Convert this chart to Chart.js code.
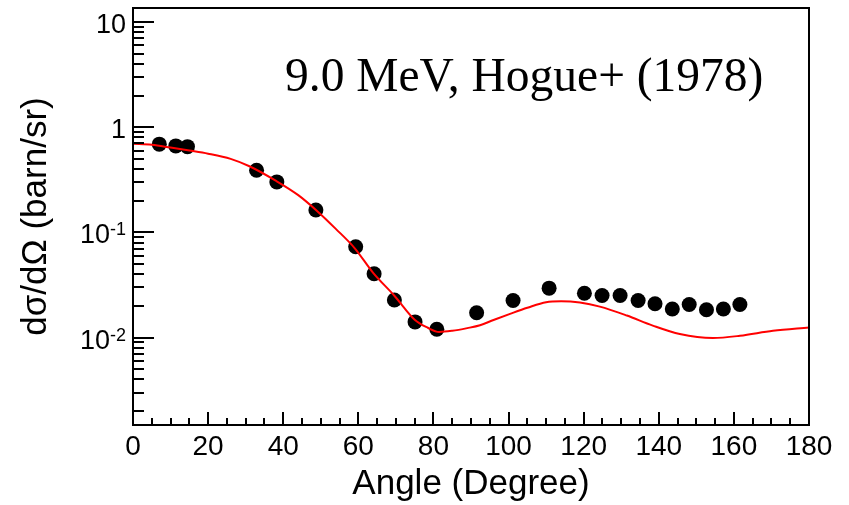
<!DOCTYPE html>
<html>
<head>
<meta charset="utf-8">
<script src="https://cdn.jsdelivr.net/npm/chart.js@4.4.0/dist/chart.umd.min.js"></script>
<style>
    body { margin: 0; background: #fff; }
    #wrap { width: 849px; height: 505px; }
</style>
</head>
<body>
<div id="wrap"><canvas id="xsChart" width="849" height="505"></canvas></div>
<script>
// measured points (Hogue+ 1978, 9.0 MeV)
const angles = [7.0, 11.4, 14.5, 32.9, 38.3, 48.7, 59.3, 64.2, 69.6, 75.1, 80.9, 91.5,
    101.2, 110.8, 120.2, 124.9, 129.7, 134.5, 139.0, 143.6, 148.1, 152.7, 157.2, 161.6];
const crossSections = [0.69, 0.664, 0.653, 0.39, 0.302, 0.163, 0.073, 0.0405, 0.0228, 0.0141, 0.0120, 0.0172,
    0.0225, 0.0295, 0.0264, 0.0251, 0.0251, 0.0225, 0.0210, 0.0187, 0.0206, 0.0184, 0.0187, 0.0206];

// calculated curve
const fitAngles = [0, 5, 10, 15, 20, 26, 31, 38, 44, 49, 54, 59, 64, 69.6, 75, 78.5, 81.5, 85, 89, 92.4, 96,
    100.4, 105, 110, 114, 119, 124.3, 131.5, 138.4, 145.6, 154.4, 161.6, 170.4, 180];
const fitValues = [0.695, 0.68, 0.64, 0.60, 0.56, 0.50, 0.425, 0.31, 0.226, 0.16, 0.108, 0.071, 0.041, 0.025, 0.0148,
    0.0124, 0.0113, 0.0116, 0.0123, 0.0131, 0.0147, 0.0168, 0.0192, 0.0217, 0.0221, 0.0215, 0.0197, 0.0162,
    0.0130, 0.0108, 0.0099, 0.0104, 0.0116, 0.0125];

// axis labels
const xTicks = [0, 20, 40, 60, 80, 100, 120, 140, 160, 180];
const yDecades = [10, 1, 0.1, 0.01];
const yDecadeLabels = [['10', ''], ['1', ''], ['10', '-1'], ['10', '-2']];
const titleText = '9.0 MeV, Hogue+ (1978)';

const sans = '"Liberation Sans", Arial, Helvetica, sans-serif';

// frame, inward ticks, y labels and caption
const frameAndTicks = {
    id: 'frameAndTicks',
    afterDatasetsDraw(chart) {
        const ctx = chart.ctx;
        const area = chart.chartArea;
        const xs = chart.scales.x;
        const ys = chart.scales.y;
        ctx.save();
        ctx.strokeStyle = '#000';
        ctx.lineWidth = 2;

        // x ticks every 5 deg
        ctx.beginPath();
        for (let a = 0; a <= 180; a += 5) {
            const px = Math.round(xs.getPixelForValue(a));
            const len = a % 20 === 0 ? 13 : 7;
            ctx.moveTo(px, area.bottom);
            ctx.lineTo(px, area.bottom - len);
        }
        // y ticks, decades and 2..9
        for (let e = -3; e <= 1; e++) {
            for (let m = 1; m <= 9; m++) {
                const v = m * Math.pow(10, e);
                if (v < ys.min || v > ys.max) continue;
                const py = Math.round(ys.getPixelForValue(v));
                const len = m === 1 ? 21 : 11;
                ctx.moveTo(area.left, py);
                ctx.lineTo(area.left + len, py);
            }
        }
        ctx.stroke();

        // frame
        ctx.strokeRect(area.left, area.top, area.right - area.left, area.bottom - area.top);

        // y labels with exponents
        ctx.fillStyle = '#000';
        ctx.textBaseline = 'alphabetic';
        ctx.textAlign = 'right';
        yDecades.forEach((v, i) => {
            const py = ys.getPixelForValue(v);
            const base = yDecadeLabels[i][0];
            const sup = yDecadeLabels[i][1];
            let right = area.left - 7;
            if (sup) {
                ctx.font = '18px ' + sans;
                ctx.fillText(sup, right, py + 3);
                right -= ctx.measureText(sup).width;
            }
            ctx.font = '27px ' + sans;
            ctx.fillText(base, right, py + 11);
        });

        // caption
        ctx.textAlign = 'left';
        ctx.font = '47.5px "Liberation Serif", "Times New Roman", serif';
        ctx.fillText(titleText, 285, 91);
        ctx.restore();
    }
};

const ctx = document.getElementById('xsChart').getContext('2d');
const xsChart = new Chart(ctx, {
    type: 'scatter',
    data: {
        datasets: [{
            label: 'Hogue+ (1978)',
            data: angles.map((a, i) => ({ x: a, y: crossSections[i] })),
            backgroundColor: '#000',
            borderWidth: 0,
            pointRadius: 7.5,
            order: 1
        }, {
            type: 'line',
            label: 'calc',
            data: fitAngles.map((a, i) => ({ x: a, y: fitValues[i] })),
            borderColor: '#ff0000',
            borderWidth: 2,
            pointRadius: 0,
            fill: false,
            cubicInterpolationMode: 'monotone',
            order: 0
        }]
    },
    options: {
        responsive: false,
        animation: false,
        layout: { padding: { left: 0, right: 40, top: 8, bottom: 0 } },
        plugins: {
            legend: { display: false },
            tooltip: { enabled: false }
        },
        scales: {
            x: {
                type: 'linear',
                min: 0,
                max: 180,
                afterBuildTicks: scale => { scale.ticks = xTicks.map(v => ({ value: v })); },
                afterFit: scale => { scale.height = 80; },
                grid: { display: false, drawTicks: false },
                border: { display: false },
                ticks: { color: '#000', padding: 5, maxRotation: 0, font: { size: 28, family: sans } },
                title: {
                    display: true,
                    text: 'Angle (Degree)',
                    color: '#000',
                    font: { size: 35, family: sans },
                    padding: { top: 0, bottom: 0 }
                }
            },
            y: {
                type: 'logarithmic',
                min: 0.001476,
                max: 13.58,
                afterFit: scale => { scale.width = 133; },
                grid: { display: false, drawTicks: false },
                border: { display: false },
                ticks: { display: false },
                title: {
                    display: true,
                    text: 'dσ/dΩ (barn/sr)',
                    color: '#000',
                    font: { size: 35, family: sans },
                    padding: { top: 15, bottom: 0 }
                }
            }
        }
    },
    plugins: [frameAndTicks]
});
</script>
</body>
</html>
